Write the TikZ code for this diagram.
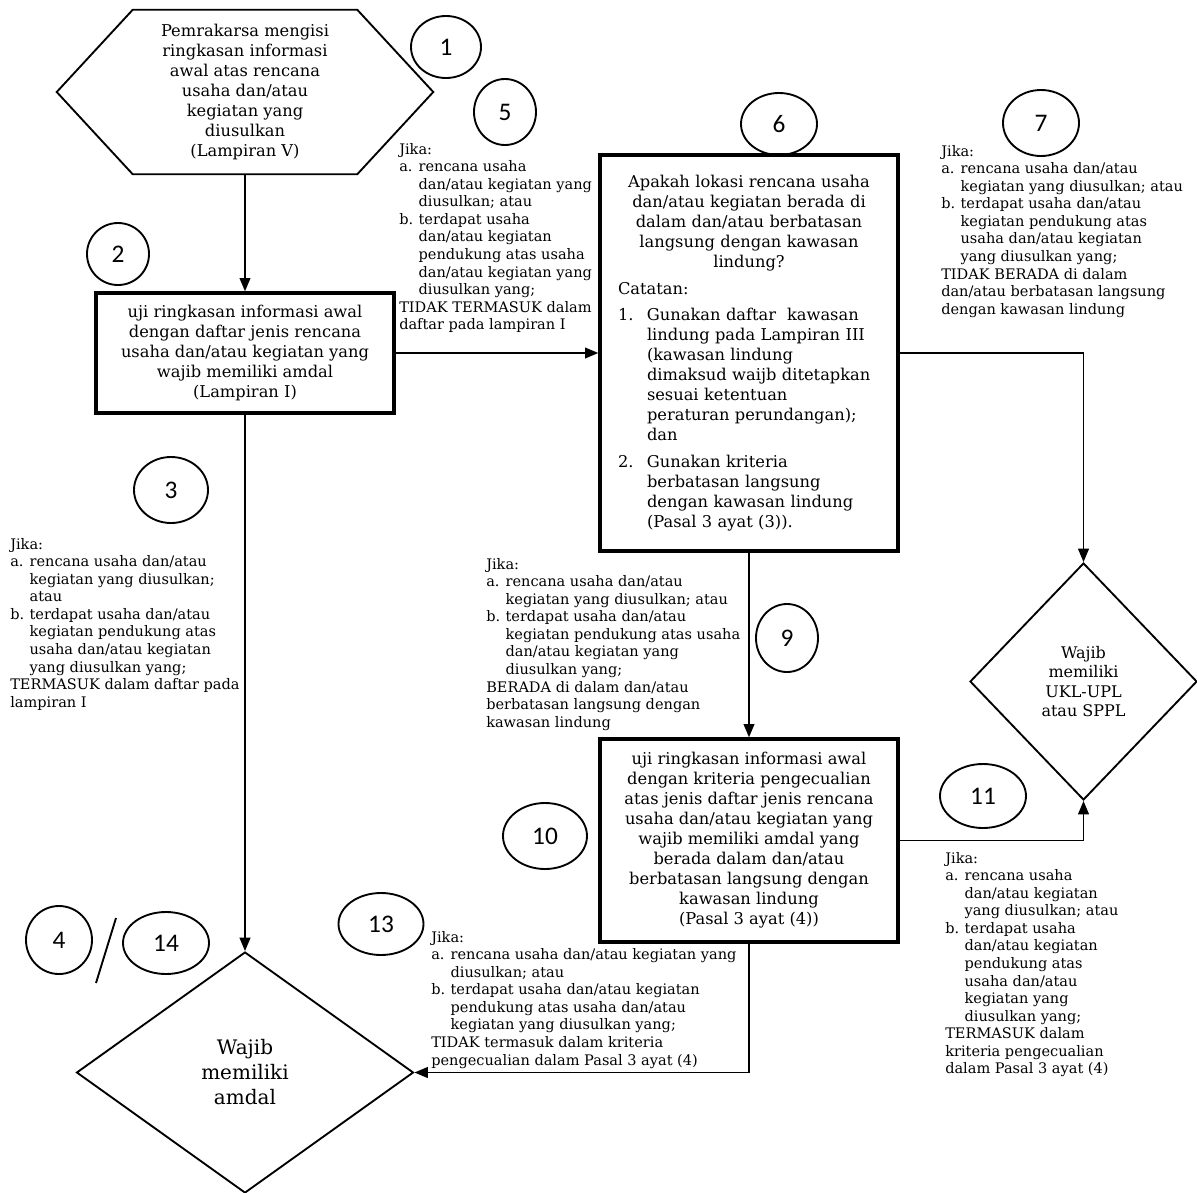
\documentclass[tikz,border=0pt]{standalone}
\usepackage{fontspec}
\setmainfont{DejaVu Serif}
\newfontfamily\numfont{Carlito}
\usetikzlibrary{shapes.geometric,arrows.meta}
\newcommand{\mainsz}{\fontsize{12.2pt}{15pt}\selectfont}
\newcommand{\smallsz}{\fontsize{10.9pt}{13.15pt}\selectfont}
\newcommand{\amdalsz}{\fontsize{15pt}{18.75pt}\selectfont}
\newcommand{\uklsz}{\fontsize{12pt}{14.4pt}\selectfont}
\newcommand{\lab}[1]{\makebox[14.5pt][l]{#1}}
\newcommand{\ind}{\hspace*{14.5pt}}
\newcommand{\labb}[1]{\makebox[21.75pt][l]{#1}}
\newcommand{\indd}{\hspace*{21.75pt}}
\begin{document}
\begin{tikzpicture}[x=0.75pt,y=-0.75pt,
  box/.style={draw,line width=2.5pt,rectangle,inner sep=0pt,align=center,font=\mainsz},
  num/.style={draw,ellipse,line width=1.4pt,inner sep=0pt,font=\numfont\fontsize{19pt}{22pt}\selectfont},
  note/.style={anchor=north west,inner sep=0pt,align=left,font=\smallsz},
  conn/.style={line width=1.4pt,-{Triangle[length=10pt,width=8pt]}},
  dia/.style={draw,diamond,line width=1.4pt,inner sep=0pt,align=center}]
\useasboundingbox (0,0) rectangle (1197,1193);

% hexagon (start)
\node[inner sep=0pt,minimum width={0.75*376pt},minimum height={0.75*164pt},align=center,font=\mainsz] (hex) at (245,92)
  {Pemrakarsa mengisi\\ ringkasan informasi\\ awal atas rencana\\ usaha dan/atau\\ kegiatan yang\\ diusulkan\\ (Lampiran V)};
\draw[line width=1.4pt] (hex.west) -- ([xshift={0.75*76pt}]hex.north west) -- ([xshift={-0.75*76pt}]hex.north east)
  -- (hex.east) -- ([xshift={-0.75*76pt}]hex.south east) -- ([xshift={0.75*76pt}]hex.south west) -- cycle;

% boxes
\node[box,minimum width={0.75*298pt},minimum height={0.75*120pt}] (b2) at (245,353)
  {uji ringkasan informasi awal\\ dengan daftar jenis rencana\\ usaha dan/atau kegiatan yang\\ wajib memiliki amdal\\ (Lampiran I)};

\node[box,minimum width={0.75*298pt},minimum height={0.75*396pt},text width={0.75*262pt},align=left] (b6) at (749,353)
  {\parindent=0pt{\centering Apakah lokasi rencana usaha\\ dan/atau kegiatan berada di\\ dalam dan/atau berbatasan\\ langsung dengan kawasan\\ lindung?\par}
   \vspace{5pt}
   Catatan:\par
   \vspace{5pt}
   \labb{1.}Gunakan daftar\ \ kawasan\\
   \indd lindung pada Lampiran III\\
   \indd (kawasan lindung\\
   \indd dimaksud waijb ditetapkan\\
   \indd sesuai ketentuan\\
   \indd peraturan perundangan);\\
   \indd dan\par
   \vspace{5pt}
   \labb{2.}Gunakan kriteria\\
   \indd berbatasan langsung\\
   \indd dengan kawasan lindung\\
   \indd (Pasal 3 ayat (3)).};

\node[box,minimum width={0.75*298pt},minimum height={0.75*203pt}] (b10) at (749,840.5)
  {uji ringkasan informasi awal\\ dengan kriteria pengecualian\\ atas jenis daftar jenis rencana\\ usaha dan/atau kegiatan yang\\ wajib memiliki amdal yang\\ berada dalam dan/atau\\ berbatasan langsung dengan\\ kawasan lindung\\ (Pasal 3 ayat (4))};

% diamonds
\node[dia,minimum width={0.75*227pt},minimum height={0.75*237pt},font=\uklsz] (ukl) at (1083.5,681.5)
  {Wajib\\ memiliki\\ UKL-UPL\\ atau SPPL};
\node[dia,minimum width={0.75*337pt},minimum height={0.75*241pt},font=\amdalsz] (amdal) at (245,1072.5)
  {Wajib\\ memiliki\\ amdal};

% connectors
\draw[conn] (hex.south) -- (b2.north);
\draw[conn] (b2.east) -- (b6.west);
\draw[conn] (b6.east) -| (ukl.north);
\draw[conn] (b2.south) -- (amdal.north);
\draw[conn] (b6.south) -- (b10.north);
\draw[conn] (b10.east) -| (ukl.south);
\draw[conn] (b10.south) |- (amdal.east);

% numbered circles
\node[num,minimum width={0.75*70pt},minimum height={0.75*62pt}] (n1) at (446,47) {1};
\node[num,minimum width={0.75*62pt},minimum height={0.75*66pt}] (n5) at (505,112) {5};
\node[num,minimum width={0.75*62pt},minimum height={0.75*62pt}] (n2) at (118,254) {2};
\node[num,minimum width={0.75*76pt},minimum height={0.75*62pt}] (n6) at (779,124) {6};
\node[num,minimum width={0.75*76pt},minimum height={0.75*66pt}] (n7) at (1041,123) {7};
\node[num,minimum width={0.75*74pt},minimum height={0.75*66pt}] (n3) at (171,490) {3};
\node[num,minimum width={0.75*62pt},minimum height={0.75*68pt}] (n9) at (787,638) {9};
\node[num,minimum width={0.75*84pt},minimum height={0.75*66pt}] (n10) at (545,836) {10};
\node[num,minimum width={0.75*86pt},minimum height={0.75*64pt}] (n11) at (983,796) {11};
\node[num,minimum width={0.75*66pt},minimum height={0.75*68pt}] (n4) at (59,940) {4};
\node[num,minimum width={0.75*86pt},minimum height={0.75*62pt}] (n14) at (166,943) {14};
\node[num,minimum width={0.75*85pt},minimum height={0.75*62pt}] (n13) at (381,924) {13};
\draw[line width=1.4pt] (116,918) -- (96,983);

% condition notes
\node[note] (t5) at (399,143) {Jika:\\
\lab{a.}rencana usaha\\
\ind dan/atau kegiatan yang\\
\ind diusulkan; atau\\
\lab{b.}terdapat usaha\\
\ind dan/atau kegiatan\\
\ind pendukung atas usaha\\
\ind dan/atau kegiatan yang\\
\ind diusulkan yang;\\
TIDAK TERMASUK dalam\\
daftar pada lampiran I};

\node[note] (t7) at (941,145) {Jika:\\
\lab{a.}rencana usaha dan/atau\\
\ind kegiatan yang diusulkan; atau\\
\lab{b.}terdapat usaha dan/atau\\
\ind kegiatan pendukung atas\\
\ind usaha dan/atau kegiatan\\
\ind yang diusulkan yang;\\
TIDAK BERADA di dalam\\
dan/atau berbatasan langsung\\
dengan kawasan lindung};

\node[note] (t3) at (10,538) {Jika:\\
\lab{a.}rencana usaha dan/atau\\
\ind kegiatan yang diusulkan;\\
\ind atau\\
\lab{b.}terdapat usaha dan/atau\\
\ind kegiatan pendukung atas\\
\ind usaha dan/atau kegiatan\\
\ind yang diusulkan yang;\\
TERMASUK dalam daftar pada\\
lampiran I};

\node[note] (t9) at (486,558) {Jika:\\
\lab{a.}rencana usaha dan/atau\\
\ind kegiatan yang diusulkan; atau\\
\lab{b.}terdapat usaha dan/atau\\
\ind kegiatan pendukung atas usaha\\
\ind dan/atau kegiatan yang\\
\ind diusulkan yang;\\
BERADA di dalam dan/atau\\
berbatasan langsung dengan\\
kawasan lindung};

\node[note] (t11) at (945,852) {Jika:\\
\lab{a.}rencana usaha\\
\ind dan/atau kegiatan\\
\ind yang diusulkan; atau\\
\lab{b.}terdapat usaha\\
\ind dan/atau kegiatan\\
\ind pendukung atas\\
\ind usaha dan/atau\\
\ind kegiatan yang\\
\ind diusulkan yang;\\
TERMASUK dalam\\
kriteria pengecualian\\
dalam Pasal 3 ayat (4)};

\node[note] (t13) at (431,931) {Jika:\\
\lab{a.}rencana usaha dan/atau kegiatan yang\\
\ind diusulkan; atau\\
\lab{b.}terdapat usaha dan/atau kegiatan\\
\ind pendukung atas usaha dan/atau\\
\ind kegiatan yang diusulkan yang;\\
TIDAK termasuk dalam kriteria\\
pengecualian dalam Pasal 3 ayat (4)};
\end{tikzpicture}
\end{document}
